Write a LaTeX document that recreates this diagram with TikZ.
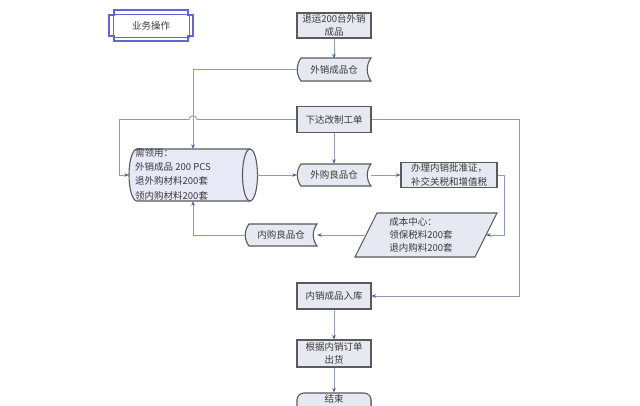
\documentclass[tikz,border=0pt]{standalone}
\usepackage{fontspec}
\setmainfont{Noto Sans CJK SC}
\usetikzlibrary{arrows.meta,shadows}
\definecolor{boxfill}{HTML}{E6E9F1}
\definecolor{cylfill}{HTML}{E7E9F7}
\definecolor{edgecol}{HTML}{5A5A5A}
\definecolor{conncol}{HTML}{8E9BB9}
\definecolor{tipcol}{HTML}{4E5E9E}
\definecolor{txtcol}{HTML}{3A3A3A}
\definecolor{plaquecol}{HTML}{6464D2}
\newcommand{\stdata}[4]{%
  \filldraw[draw=edgecol,line width=1.1pt,fill=boxfill]
    ({#1+4},#2) -- (#3,#2)
    .. controls ({#3-5},{#2+0.3*(#4-#2)}) and ({#3-5},{#4-0.3*(#4-#2)}) .. (#3,#4)
    -- ({#1+4},#4)
    .. controls ({#1-1},{#4-0.3*(#4-#2)}) and ({#1-1},{#2+0.3*(#4-#2)}) .. ({#1+4},#2)
    -- cycle;}
\begin{document}
\begin{tikzpicture}[x=1pt,y=-1pt,
  every node/.style={font=\fontsize{9.5}{13.5}\selectfont, text=txtcol, inner sep=0pt},
  box/.style={draw=edgecol, line width=1.1pt, fill=boxfill, minimum width=74pt,
    minimum height=25pt, align=center,
    general shadow={fill=black!35, shadow xshift=0.8pt, shadow yshift=-0.8pt}},
  ghost/.style={minimum width=#1, minimum height=22pt, align=center},
  conn/.style={draw=conncol, line width=0.8pt,
    -{Stealth[length=4.5pt,width=3.6pt,color=tipcol]}},
  plain/.style={draw=conncol, line width=0.8pt},
]
\clip (0,0) rectangle (640,405);
\fill[white] (0,0) rectangle (640,405);

% title plaque
\draw[plaquecol, line width=1.6pt, fill=white]
  (114,10) -- (188,10) -- (188,15) -- (193,15) -- (193,36) -- (188,36) -- (188,41)
  -- (114,41) -- (114,36) -- (109,36) -- (109,15) -- (114,15) -- cycle;
\draw[plaquecol, line width=0.6pt] (113,14) rectangle (189,37);
\node (title) at (151,25.5) {业务操作};

% boxes
\node[box] (n1) at (334,25.5) {退运200台外销\\成品};
\stdata{297}{58}{371}{81}
\node[ghost=74pt] (n2) at (334,69.5) {外销成品仓};
\node[box, minimum height=26pt] (n3) at (334,119.5) {下达改制工单};
\stdata{297}{164}{371}{186}
\node[ghost=74pt] (n4) at (334,175) {外购良品仓};
\node[box, minimum width=96pt] (n5) at (449,175) {办理内销批准证，\\补交关税和增值税};
\stdata{245}{224}{317}{246}
\node[ghost=72pt] (n6) at (281,235) {内购良品仓};
\node[box, minimum height=26pt] (n7) at (334,296) {内销成品入库};
\node[box, minimum height=27pt] (n8) at (334,353.5) {根据内销订单\\出货};
\node[box, rounded corners=7pt, minimum height=27pt] (n9) at (334,406.5) {};
\node (n9text) at (334,399) {结束};

% cylinder
\fill[cylfill] (137,175) ellipse [x radius=8, y radius=26];
\fill[cylfill] (137,149) rectangle (250,201);
\fill[cylfill] (250,175) ellipse [x radius=7.5, y radius=26];
\draw[edgecol, line width=1.1pt]
  (250,149) -- (137,149)
  .. controls (132.6,149) and (129,160.6) .. (129,175)
  .. controls (129,189.4) and (132.6,201) .. (137,201) -- (250,201);
\draw[edgecol, line width=1.1pt] (250,175) ellipse [x radius=7.5, y radius=26];
\node[minimum width=128pt, minimum height=52pt] (cyl) at (193,175) {};
\node[anchor=west, align=left, font=\fontsize{9.5}{14.3}\selectfont] (cyltext) at (135,174)
  {需领用：\\外销成品 200 PCS\\退外购材料200套\\领内购材料200套};

% parallelogram
\filldraw[draw=edgecol, line width=1.1pt, fill=boxfill]
  (377,213) -- (497,213) -- (475,257) -- (355,257) -- cycle;
\node[minimum width=120pt, minimum height=44pt] (para) at (426,235) {};
\node[align=left, font=\fontsize{9.5}{13}\selectfont] (paratext) at (421,235)
  {成本中心：\\领保税料200套\\退内购料200套};

% connectors
\draw[conn] (n1.south) -- (n2.north);
\draw[conn] (n2.west) -| (cyl.north);
\draw[plain] (n3.west) -- (197,119.5)
  .. controls (197,114.5) and (189,114.5) .. (189,119.5) -- (119,119.5);
\draw[conn] (119,119.5) |- (cyl.west);
\draw[conn] (n3.east) -- (519,119.5) |- (n7.east);
\draw[conn] (n3.south) -- (n4.north);
\draw[conn] (cyl.east) -- (n4.west);
\draw[conn] (n4.east) -- (n5.west);
\draw[conn] (n5.east) -- (504,175) |- (para.east);
\draw[conn] (para.west) -- (n6.east);
\draw[conn] (n6.west) -| (cyl.south);
\draw[conn] (n7.south) -- (n8.north);
\draw[conn] (n8.south) -- (n9.north);
\end{tikzpicture}
\end{document}
